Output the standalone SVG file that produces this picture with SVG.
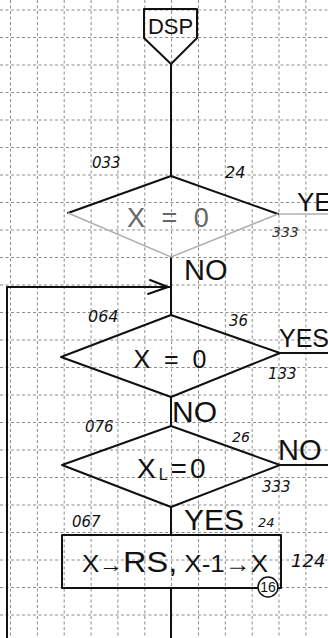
<svg xmlns="http://www.w3.org/2000/svg" width="328" height="638" viewBox="0 0 328 638">
<style>
.grid line{stroke:#8c8c8c;stroke-width:1;stroke-dasharray:3 2.5}
.ln{stroke:#111;stroke-width:2;fill:none;stroke-linecap:round;stroke-linejoin:round}
.fd{stroke:#b0b0b0;stroke-width:1.5;fill:none}
.shape{fill:none;stroke:#111;stroke-width:2;stroke-linejoin:round}
.t{font-family:"Liberation Sans","DejaVu Sans",sans-serif;fill:#111}
.h{font-family:"DejaVu Sans","Liberation Sans",sans-serif;font-style:italic;fill:#111}
</style>
<rect width="328" height="638" fill="#fff"/>
<g class="grid">
<line x1="10.5" y1="0" x2="10.5" y2="638"/><line x1="37.4" y1="0" x2="37.4" y2="638"/><line x1="64.2" y1="0" x2="64.2" y2="638"/><line x1="91.1" y1="0" x2="91.1" y2="638"/><line x1="117.9" y1="0" x2="117.9" y2="638"/><line x1="144.8" y1="0" x2="144.8" y2="638"/><line x1="171.6" y1="0" x2="171.6" y2="638"/><line x1="198.5" y1="0" x2="198.5" y2="638"/><line x1="225.3" y1="0" x2="225.3" y2="638"/><line x1="252.2" y1="0" x2="252.2" y2="638"/><line x1="279" y1="0" x2="279" y2="638"/><line x1="305.9" y1="0" x2="305.9" y2="638"/>
<line x1="0" y1="10" x2="328" y2="10"/><line x1="0" y1="37.5" x2="328" y2="37.5"/><line x1="0" y1="65" x2="328" y2="65"/><line x1="0" y1="92.5" x2="328" y2="92.5"/><line x1="0" y1="120" x2="328" y2="120"/><line x1="0" y1="147.5" x2="328" y2="147.5"/><line x1="0" y1="175" x2="328" y2="175"/><line x1="0" y1="202.5" x2="328" y2="202.5"/><line x1="0" y1="230" x2="328" y2="230"/><line x1="0" y1="257.5" x2="328" y2="257.5"/><line x1="0" y1="285" x2="328" y2="285"/><line x1="0" y1="312.5" x2="328" y2="312.5"/><line x1="0" y1="340" x2="328" y2="340"/><line x1="0" y1="367.5" x2="328" y2="367.5"/><line x1="0" y1="395" x2="328" y2="395"/><line x1="0" y1="422.5" x2="328" y2="422.5"/><line x1="0" y1="450" x2="328" y2="450"/><line x1="0" y1="477.5" x2="328" y2="477.5"/><line x1="0" y1="505" x2="328" y2="505"/><line x1="0" y1="532.5" x2="328" y2="532.5"/><line x1="0" y1="560" x2="328" y2="560"/><line x1="0" y1="587.5" x2="328" y2="587.5"/><line x1="0" y1="615" x2="328" y2="615"/>
</g>
<g id="connectors">
<path class="ln" d="M171,64 V176"/>
<path class="ln" d="M171,257 V315"/>
<path class="ln" d="M7,638 V287 H171"/>
<polyline class="ln" points="150,280 168,287 148,294"/>
<path class="fd" d="M278,214 H328"/>
<path class="ln" d="M280,353 H328"/>
<path class="ln" d="M171,397 V426"/>
<path class="ln" d="M280,465 H328"/>
<path class="ln" d="M171,507 V535"/>
<path class="ln" d="M171,588 V638"/>
</g>
<g id="dsp">
<polygon class="shape" points="144,9 197,9 197,38 171,64 144,38"/>
<text class="t" x="170.5" y="34" font-size="22" text-anchor="middle">DSP</text>
</g>
<g id="decision1">
<path class="ln" d="M68,213 L171,176 L278,214"/>
<path class="fd" d="M278,214 L171,257 L68,213"/>
<text class="t" x="168" y="227" font-size="27" text-anchor="middle" word-spacing="9" style="fill:#666">X = 0</text>
<text class="h" x="92" y="168" font-size="15">033</text>
<text class="h" x="225" y="178" font-size="16">24</text>
<text class="t" x="297" y="211" font-size="26">YE</text>
<text class="h" x="272" y="237" font-size="14" style="fill:#333">333</text>
<text class="t" x="184" y="280" font-size="29">NO</text>
</g>
<g id="decision2">
<polygon class="shape" points="171,315 280,353 171,397 61,357"/>
<text class="t" x="170" y="368" font-size="25" text-anchor="middle" word-spacing="7">X = 0</text>
<text class="h" x="88" y="322" font-size="16">064</text>
<text class="h" x="229" y="326" font-size="15">36</text>
<text class="t" x="279" y="347" font-size="25">YES</text>
<text class="h" x="268" y="379" font-size="15">133</text>
<text class="t" x="172" y="422" font-size="30">NO</text>
</g>
<g id="decision3">
<polygon class="shape" points="171,426 280,465 171,507 62,465"/>
<text class="t" x="137" y="478" font-size="28" letter-spacing="3">X<tspan font-size="16" dy="2">L</tspan><tspan dy="-2">=0</tspan></text>
<text class="h" x="85" y="432" font-size="15">076</text>
<text class="h" x="232" y="442" font-size="14">26</text>
<text class="t" x="278" y="460" font-size="29">NO</text>
<text class="h" x="262" y="492" font-size="15">333</text>
<text class="t" x="184" y="530" font-size="30">YES</text>
<text class="h" x="72" y="527" font-size="15">067</text>
<text class="h" x="258" y="527" font-size="13">24</text>
</g>
<g id="process">
<rect class="shape" x="62" y="535" width="219" height="53"/>
<text class="t" x="82" y="572" font-size="24" textLength="186" lengthAdjust="spacingAndGlyphs">X<tspan font-size="22">→</tspan><tspan font-size="30">RS,</tspan> X-1→X</text>
<circle cx="268" cy="587" r="10" fill="#fff" stroke="#111" stroke-width="1.5"/>
<text class="t" x="268" y="592" font-size="14" text-anchor="middle">16</text>
<text class="h" x="291" y="567" font-size="18">124</text>
</g>
</svg>
